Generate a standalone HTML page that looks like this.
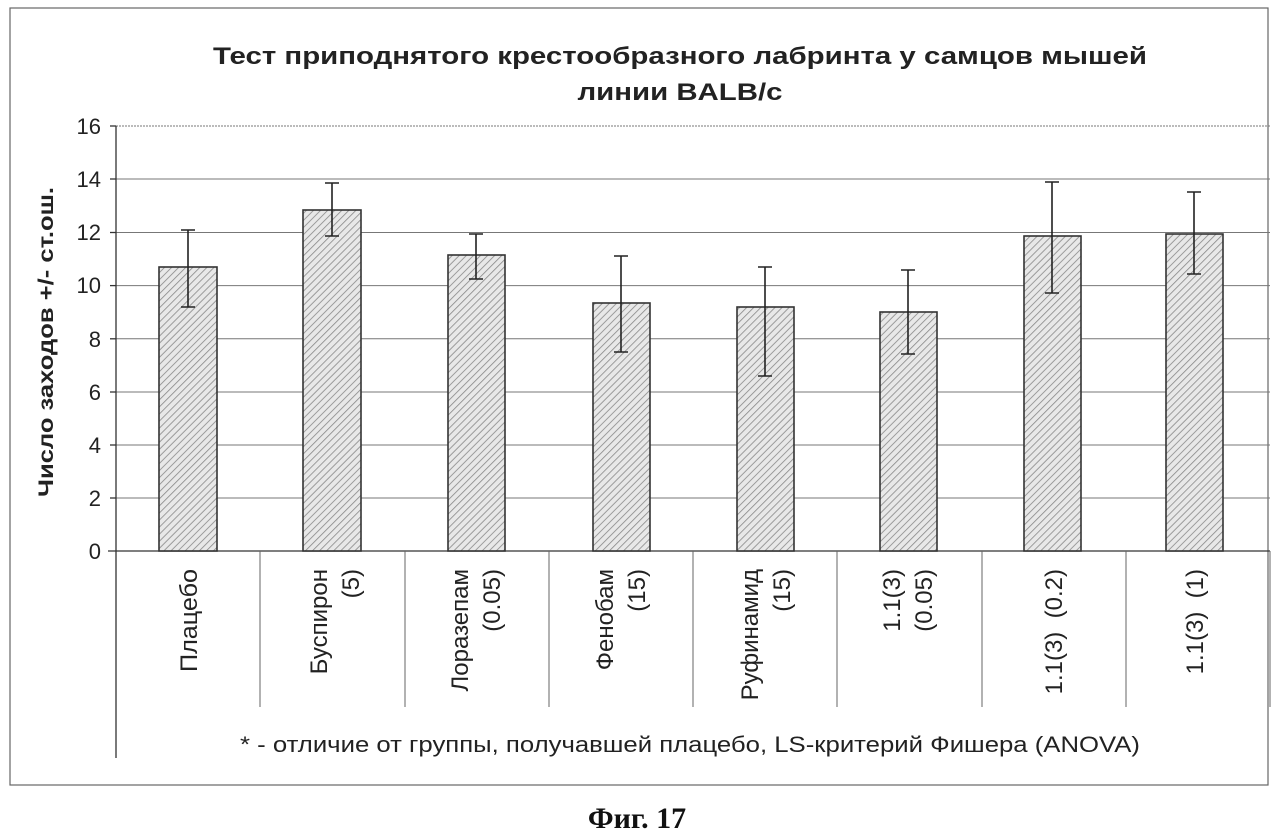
<!DOCTYPE html><html><head><meta charset="utf-8"><style>body{margin:0;background:#fff}svg{display:block}</style></head><body>
<svg width="1274" height="836" xmlns="http://www.w3.org/2000/svg" font-family="Liberation Sans, sans-serif">
<defs><pattern id="h" width="5" height="5" patternUnits="userSpaceOnUse" patternTransform="rotate(45)"><rect width="5" height="5" fill="#e8e8e8"/><line x1="0" y1="0" x2="0" y2="5" stroke="#888" stroke-width="1.6"/></pattern></defs>
<rect x="10" y="8" width="1258" height="777" fill="none" stroke="#666" stroke-width="1.2"/>
<text x="680" y="64" font-size="24" font-weight="bold" text-anchor="middle" fill="#222" textLength="934" lengthAdjust="spacingAndGlyphs">Тест приподнятого крестообразного лабринта у самцов мышей</text>
<text x="680" y="100" font-size="24" font-weight="bold" text-anchor="middle" fill="#222" textLength="205" lengthAdjust="spacingAndGlyphs">линии BALB/c</text>
<g stroke="#777" stroke-width="1">
<line x1="116" y1="126" x2="1270" y2="126" stroke-dasharray="2,1"/>
<line x1="116" y1="179" x2="1270" y2="179"/><line x1="116" y1="232.5" x2="1270" y2="232.5"/><line x1="116" y1="285.6" x2="1270" y2="285.6"/><line x1="116" y1="338.8" x2="1270" y2="338.8"/><line x1="116" y1="392" x2="1270" y2="392"/><line x1="116" y1="445" x2="1270" y2="445"/><line x1="116" y1="498" x2="1270" y2="498"/>
</g>
<g stroke="#333" stroke-width="1.3">
<line x1="116" y1="126" x2="116" y2="758"/><line x1="108" y1="551" x2="1270" y2="551"/>
<line x1="110" y1="126" x2="116" y2="126"/><line x1="110" y1="179" x2="116" y2="179"/><line x1="110" y1="232.5" x2="116" y2="232.5"/><line x1="110" y1="285.6" x2="116" y2="285.6"/><line x1="110" y1="338.8" x2="116" y2="338.8"/><line x1="110" y1="392" x2="116" y2="392"/><line x1="110" y1="445" x2="116" y2="445"/><line x1="110" y1="498" x2="116" y2="498"/>
</g>
<g stroke="#666" stroke-width="1"><line x1="260" y1="551" x2="260" y2="707"/><line x1="405" y1="551" x2="405" y2="707"/><line x1="549" y1="551" x2="549" y2="707"/><line x1="693" y1="551" x2="693" y2="707"/><line x1="837" y1="551" x2="837" y2="707"/><line x1="982" y1="551" x2="982" y2="707"/><line x1="1126" y1="551" x2="1126" y2="707"/><line x1="1270" y1="551" x2="1270" y2="707"/></g>
<g font-size="22" text-anchor="end" fill="#222"><text x="101" y="134">16</text><text x="101" y="187">14</text><text x="101" y="240">12</text><text x="101" y="293">10</text><text x="101" y="347">8</text><text x="101" y="400">6</text><text x="101" y="453">4</text><text x="101" y="506">2</text><text x="101" y="559">0</text></g>
<text transform="translate(53,342) rotate(-90)" font-size="21" font-weight="bold" text-anchor="middle" fill="#222" textLength="310" lengthAdjust="spacingAndGlyphs">Число заходов +/- ст.ош.</text>
<g stroke="#333" stroke-width="1.6" fill="url(#h)">
<rect x="159" y="267" width="58" height="284"/><rect x="303" y="210" width="58" height="341"/><rect x="448" y="255" width="57" height="296"/><rect x="593" y="303" width="57" height="248"/><rect x="737" y="307" width="57" height="244"/><rect x="880" y="312" width="57" height="239"/><rect x="1024" y="236" width="57" height="315"/><rect x="1166" y="234" width="57" height="317"/>
</g>
<g stroke="#222" stroke-width="1.6">
<path d="M188 230V307M181 230h14M181 307h14"/>
<path d="M332 183V236M325 183h14M325 236h14"/>
<path d="M476 234V279M469 234h14M469 279h14"/>
<path d="M621 256V352M614 256h14M614 352h14"/>
<path d="M765 267V376M758 267h14M758 376h14"/>
<path d="M908 270V354M901 270h14M901 354h14"/>
<path d="M1052 182V293M1045 182h14M1045 293h14"/>
<path d="M1194 192V274M1187 192h14M1187 274h14"/>
</g>
<g font-size="24" fill="#222" text-anchor="end">
<text transform="translate(197,569) rotate(-90)" textLength="103" lengthAdjust="spacingAndGlyphs">Плацебо</text>
<text transform="translate(327,569) rotate(-90)">Буспирон</text><text transform="translate(359,569) rotate(-90)">(5)</text>
<text transform="translate(468,569) rotate(-90)">Лоразепам</text><text transform="translate(500,569) rotate(-90)">(0.05)</text>
<text transform="translate(613,569) rotate(-90)">Фенобам</text><text transform="translate(645,569) rotate(-90)">(15)</text>
<text transform="translate(758,569) rotate(-90)">Руфинамид</text><text transform="translate(790,569) rotate(-90)">(15)</text>
<text transform="translate(900,569) rotate(-90)">1.1(3)</text><text transform="translate(932,569) rotate(-90)">(0.05)</text>
<text transform="translate(1062,569) rotate(-90)" xml:space="preserve">1.1(3)  (0.2)</text>
<text transform="translate(1203,569) rotate(-90)" xml:space="preserve">1.1(3)  (1)</text>
</g>
<text x="690" y="752" font-size="22" text-anchor="middle" fill="#222" textLength="900" lengthAdjust="spacingAndGlyphs">* - отличие от группы, получавшей плацебо, LS-критерий Фишера (ANOVA)</text>
<text x="637" y="828" font-size="30" font-weight="bold" text-anchor="middle" font-family="Liberation Serif, serif" fill="#111">Фиг. 17</text>
</svg></body></html>
